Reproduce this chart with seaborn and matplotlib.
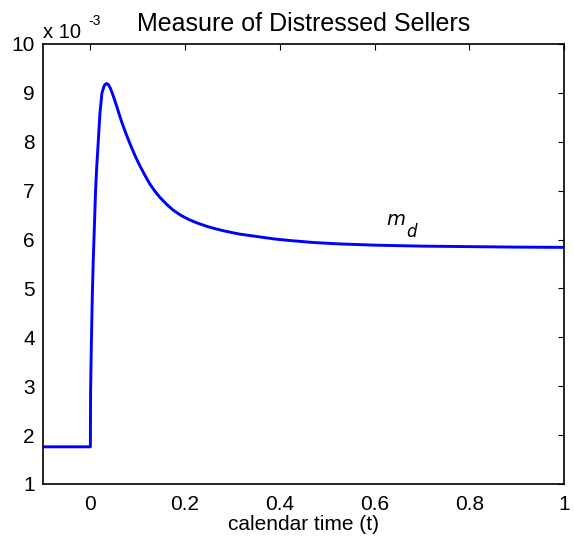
import numpy as np
import matplotlib
matplotlib.use("Agg")
import matplotlib.pyplot as plt
import seaborn as sns
import pandas as pd

# 读图得到的数据 (单位: 1e-3)
t_vals = [-0.1, 0.0, 0.0, 0.0005, 0.002, 0.004, 0.006, 0.0076, 0.011, 0.0135,
          0.0167, 0.0185, 0.0203, 0.0245, 0.029, 0.032, 0.0344, 0.038, 0.042, 0.046,
          0.050, 0.0555, 0.060, 0.066, 0.072, 0.077, 0.087, 0.096, 0.105, 0.116,
          0.126, 0.137, 0.147, 0.161, 0.175, 0.192, 0.210, 0.228, 0.246, 0.264,
          0.281, 0.300, 0.316, 0.360, 0.390, 0.421, 0.470, 0.527, 0.600, 0.700,
          0.800, 0.900, 1.000]
md_vals = [1.76, 1.76, 1.76, 2.9, 3.8, 4.8, 5.55, 6.0, 7.0, 7.5,
           8.0, 8.3, 8.59, 9.0, 9.14, 9.18, 9.19, 9.17, 9.10, 9.0,
           8.89, 8.73, 8.59, 8.41, 8.25, 8.12, 7.88, 7.68, 7.50, 7.30,
           7.13, 6.98, 6.86, 6.72, 6.60, 6.49, 6.40, 6.33, 6.27, 6.22,
           6.18, 6.14, 6.11, 6.05, 6.01, 5.98, 5.94, 5.91, 5.885, 5.865,
           5.855, 5.845, 5.84]
x_ticks = [0, 0.2, 0.4, 0.6, 0.8, 1]
x_tick_labels = ["0", "0.2", "0.4", "0.6", "0.8", "1"]
y_ticks = list(range(1, 11))

df = pd.DataFrame({"t": t_vals, "md": md_vals})

sns.set_style("white")
plt.rcParams["font.family"] = ["Liberation Sans", "DejaVu Sans"]
plt.rcParams["text.color"] = "black"
plt.rcParams["axes.labelcolor"] = "black"

fig = plt.figure(figsize=(5.74, 5.41), dpi=100)
ax = fig.add_axes([0.0749, 0.1054, 0.9077, 0.8133])

sns.lineplot(data=df, x="t", y="md", sort=False, color="#0000ff",
             linewidth=2.1, ax=ax)

ax.set_xlim(-0.1, 1)
ax.set_ylim(1, 10)
ax.set_xticks(x_ticks)
ax.set_xticklabels(x_tick_labels)
ax.set_yticks(y_ticks)
ax.tick_params(direction="in", top=True, right=True, length=4, width=0.8,
               labelsize=15, colors="black")
ax.tick_params(axis="x", pad=8)
ax.tick_params(axis="y", pad=6)
for s in ax.spines.values():
    s.set_visible(True)
    s.set_color("black")
    s.set_linewidth(1.2)

ax.set_xlabel("calendar time (t)", fontsize=15, labelpad=1, color="black")
ax.set_ylabel("")
ax.set_title("Measure of Distressed Sellers", fontsize=18, pad=9, color="black")

# MATLAB风格的指数标记
ax.text(0.0, 1.0136, "x 10", transform=ax.transAxes, fontsize=14.5,
        ha="left", va="baseline", color="black")
ax.text(0.087, 1.043, "-3", transform=ax.transAxes, fontsize=10,
        ha="left", va="baseline", color="black")

# 曲线标注
ax.text(0.624, 6.30, "$m$", fontsize=14, ha="left", va="baseline", color="black")
ax.text(0.666, 6.05, "$d$", fontsize=12, ha="left", va="baseline", color="black")

plt.savefig("out.png", dpi=100)
